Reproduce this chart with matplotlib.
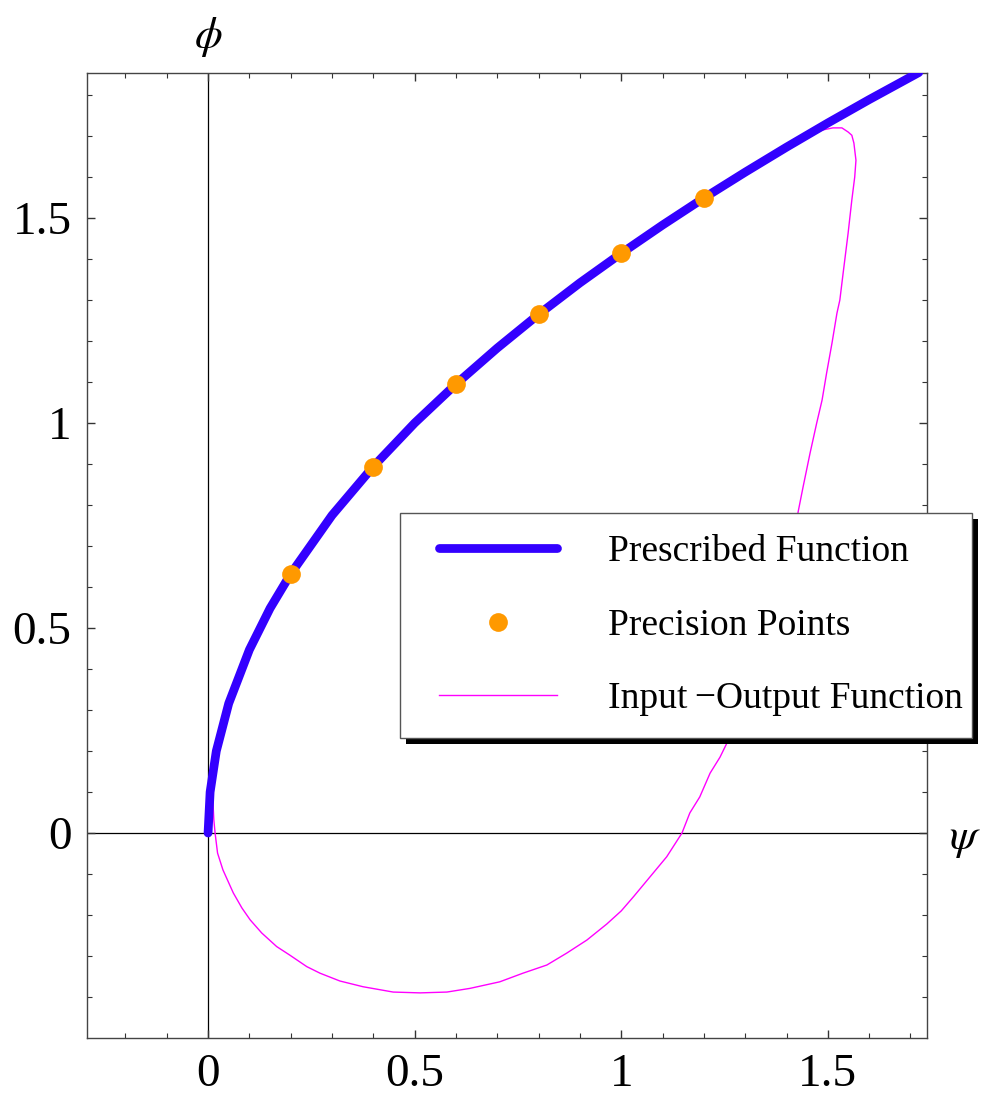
import numpy as np
import matplotlib
matplotlib.use("Agg")
import matplotlib.pyplot as plt
from matplotlib.patches import Rectangle
from matplotlib.legend_handler import HandlerLine2D

plt.rcParams['mathtext.fontset'] = 'stix'
plt.rcParams['font.family'] = ['Liberation Serif', 'DejaVu Serif']

# prescribed function phi(psi)
psi_pres = [0.0, 0.005, 0.02, 0.05, 0.1, 0.15, 0.2, 0.3, 0.4, 0.5, 0.6, 0.7, 0.8, 0.9,
            1.0, 1.1, 1.2, 1.3, 1.4, 1.5, 1.6, 1.7, 1.72]
phi_pres = [0.0, 0.10, 0.20, 0.316, 0.447, 0.548, 0.632, 0.775, 0.894, 1.0, 1.095, 1.183,
            1.265, 1.342, 1.414, 1.483, 1.549, 1.612, 1.673, 1.732, 1.789, 1.844, 1.855]

# precision points
psi_pts = [0.2, 0.4, 0.6, 0.8, 1.0, 1.2]
phi_pts = [0.632, 0.894, 1.095, 1.265, 1.414, 1.549]

# input-output function of the linkage (closed loop)
psi_io = [0.012, 0.012, 0.014, 0.017, 0.023, 0.036, 0.061, 0.082, 0.102, 0.130, 0.166, 0.198,
          0.239, 0.271, 0.319, 0.375, 0.448, 0.513, 0.578, 0.634, 0.706, 0.762, 0.820, 0.868,
          0.917, 0.965, 1.000, 1.030, 1.077, 1.110, 1.147, 1.166, 1.190, 1.215, 1.239, 1.256,
          1.300, 1.350, 1.390, 1.415, 1.428, 1.440, 1.457, 1.473, 1.486, 1.497, 1.510, 1.522,
          1.529, 1.537, 1.549, 1.558, 1.565, 1.568, 1.563, 1.558, 1.549, 1.534, 1.512, 1.488,
          1.464, 1.440, 1.428, 1.300, 1.200, 1.000, 0.800, 0.600, 0.400, 0.200, 0.100, 0.050,
          0.020, 0.012]
phi_io = [0.100, 0.073, 0.032, 0.0, -0.049, -0.090, -0.146, -0.183, -0.212, -0.244, -0.277, -0.298,
          -0.326, -0.342, -0.361, -0.375, -0.388, -0.390, -0.388, -0.379, -0.363, -0.342, -0.322, -0.293,
          -0.261, -0.222, -0.190, -0.155, -0.098, -0.058, 0.0, 0.049, 0.088, 0.146, 0.185, 0.220,
          0.330, 0.460, 0.600, 0.710, 0.783, 0.844, 0.927, 1.000, 1.056, 1.122, 1.195, 1.268,
          1.300, 1.366, 1.463, 1.544, 1.600, 1.641, 1.683, 1.702, 1.710, 1.720, 1.720, 1.715,
          1.707, 1.695, 1.688, 1.612, 1.549, 1.414, 1.265, 1.095, 0.894, 0.632, 0.447, 0.316,
          0.200, 0.100]

xticks = [0, 0.5, 1, 1.5]
yticks = [0, 0.5, 1, 1.5]
tick_labels = ["0", "0.5", "1", "1.5"]

fig = plt.figure(figsize=(9.84, 11.02), dpi=100)
ax = fig.add_axes([0.0884, 0.0581, 0.8537, 0.8757])

ax.axhline(0, color='black', lw=0.9, zorder=1)
ax.axvline(0, color='black', lw=0.9, zorder=1)

ax.plot(psi_io, phi_io, color='#FF00FF', lw=1.0, zorder=2, label='Input\u2009\u2212Output Function')
ax.plot(psi_pres, phi_pres, color='#3300FF', lw=6.3, solid_capstyle='round', zorder=3,
        label='Prescribed Function')
ax.plot(psi_pts, phi_pts, 'o', color='#FF9900', ms=13.5, mec='none', zorder=4, label='Precision Points')

ax.set_xlim(-0.293, 1.740)
ax.set_ylim(-0.5, 1.854)

ax.set_xticks(xticks)
ax.set_xticklabels(tick_labels)
ax.set_yticks(yticks)
ax.set_yticklabels(tick_labels)
ax.set_xticks(np.arange(-0.2, 1.75, 0.1), minor=True)
ax.set_yticks(np.arange(-0.4, 1.85, 0.1), minor=True)
ax.tick_params(which='both', direction='in', top=True, right=True, colors='#333333',
               labelcolor='black', labelsize=34)
ax.tick_params(which='major', length=6, width=1, pad=11)
ax.tick_params(which='minor', length=3.5, width=0.8)
for s in ax.spines.values():
    s.set_color('#444444')
    s.set_linewidth(1)

ax.text(0, 1.037, r'$\phi$', transform=ax.get_xaxis_transform(), ha='center', va='center',
        fontsize=32)
ax.text(1.045, -0.017, r'$\psi$', transform=ax.get_yaxis_transform(), ha='center', va='center',
        fontsize=32)

h, l = ax.get_legend_handles_labels()
order = [1, 2, 0]
leg = ax.legend([h[i] for i in order], [l[i] for i in order], loc='upper left',
                bbox_to_anchor=(0.3726, 0.30, 0.681, 0.244), mode='expand', borderaxespad=0,
                fontsize=27, handlelength=3.6, handletextpad=1.36, labelspacing=1.04,
                borderpad=0.58, fancybox=False, framealpha=1, edgecolor='#555555',
                handler_map={h[i]: HandlerLine2D(xpad=0.45) for i in order})
leg.get_frame().set_linewidth(1)
leg.set_zorder(10)

# solid black drop shadow behind the legend box
fig.canvas.draw()
bb = leg.get_window_extent().transformed(ax.transAxes.inverted())
dx = 6 / (0.8537 * 984)
dy = 6 / (0.8757 * 1102)
shadow = Rectangle((bb.x0 + dx, bb.y0 - dy), bb.width, bb.height, transform=ax.transAxes,
                   facecolor='black', edgecolor='none', zorder=9, clip_on=False)
ax.add_artist(shadow)
shadow.set_clip_on(False)

fig.savefig('out.png', dpi=100)
